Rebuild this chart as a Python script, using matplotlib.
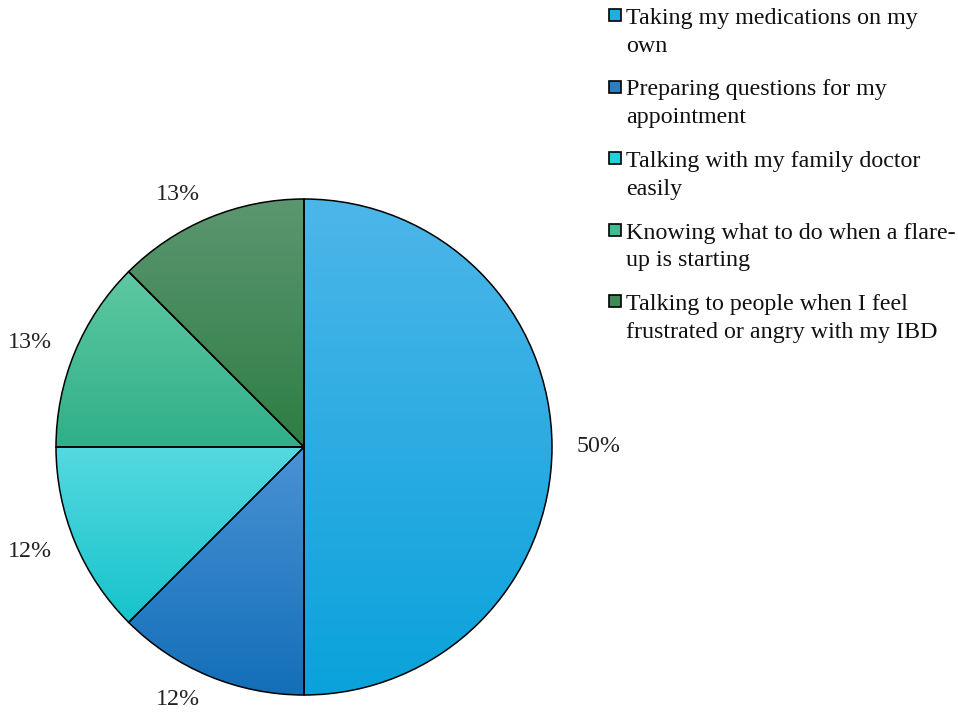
import numpy as np
import matplotlib
matplotlib.use('Agg')
import matplotlib.pyplot as plt
from matplotlib.colors import LinearSegmentedColormap
from matplotlib.patches import Rectangle

plt.rcParams['font.family'] = ['Liberation Serif', 'DejaVu Serif']

# ==================== DATA ====================

categories = [
    'Taking my medications on my\nown',
    'Preparing questions for my\nappointment',
    'Talking with my family doctor\neasily',
    'Knowing what to do when a flare-\nup is starting',
    'Talking to people when I feel\nfrustrated or angry with my IBD',
]
shares = [50, 12.5, 12.5, 12.5, 12.5]
pct_labels = ['50%', '12%', '12%', '13%', '13%']

# gradient colours (top, bottom) and flat colour for the legend keys
top_colors = ['#4DB6E9', '#4A92D5', '#55D9E0', '#5EC8A2', '#5C9670']
bottom_colors = ['#0AA2DB', '#136FB8', '#17C3CB', '#2FB088', '#2D7E44']
key_colors = ['#1BAEE8', '#2580CB', '#22D0DC', '#40BC94', '#3F8A55']

FS = 17.3
W, H = 958, 718

# ==================== FIGURE ====================

fig = plt.figure(figsize=(W / 100, H / 100), dpi=100)
# pie centre at (304, 447) px, radius 248 px
ax = fig.add_axes([56 / W, (H - 447 - 248) / H, 496 / W, 496 / H])

wedges, texts = ax.pie(
    shares,
    labels=pct_labels,
    startangle=90,
    counterclock=False,
    radius=1,
    labeldistance=1.1,
    wedgeprops=dict(facecolor='none', edgecolor='black', linewidth=1.1),
    textprops=dict(fontsize=FS, color='#222222'),
)

# vertical gradient inside every slice
grad = np.linspace(0, 1, 256).reshape(-1, 1)
for w, c_top, c_bot in zip(wedges, top_colors, bottom_colors):
    w.set_zorder(3)
    x0, y0, x1, y1 = w.get_path().get_extents().extents
    cmap = LinearSegmentedColormap.from_list('g', [c_top, c_bot])
    im = ax.imshow(grad, cmap=cmap, extent=(x0, x1, y0, y1), origin='upper',
                   aspect='auto', zorder=1, interpolation='bicubic')
    im.set_clip_path(w)

ax.set_xlim(-1, 1)
ax.set_ylim(-1, 1)
ax.set_aspect('equal')
ax.axis('off')

# ==================== LEGEND ====================

for i, (label, col) in enumerate(zip(categories, key_colors)):
    base = 23 + 71.5 * i  # baseline of first line, px from top
    fig.patches.append(Rectangle((609 / W, (H - base + 2) / H), 12 / W, 12 / H,
                                 transform=fig.transFigure, facecolor=col,
                                 edgecolor='black', linewidth=1.2))
    fig.text(626 / W, (H - base + 15) / H, label, fontsize=FS, color='#111111',
             ha='left', va='top', linespacing=1.42)

fig.savefig('out.png', dpi=100)
